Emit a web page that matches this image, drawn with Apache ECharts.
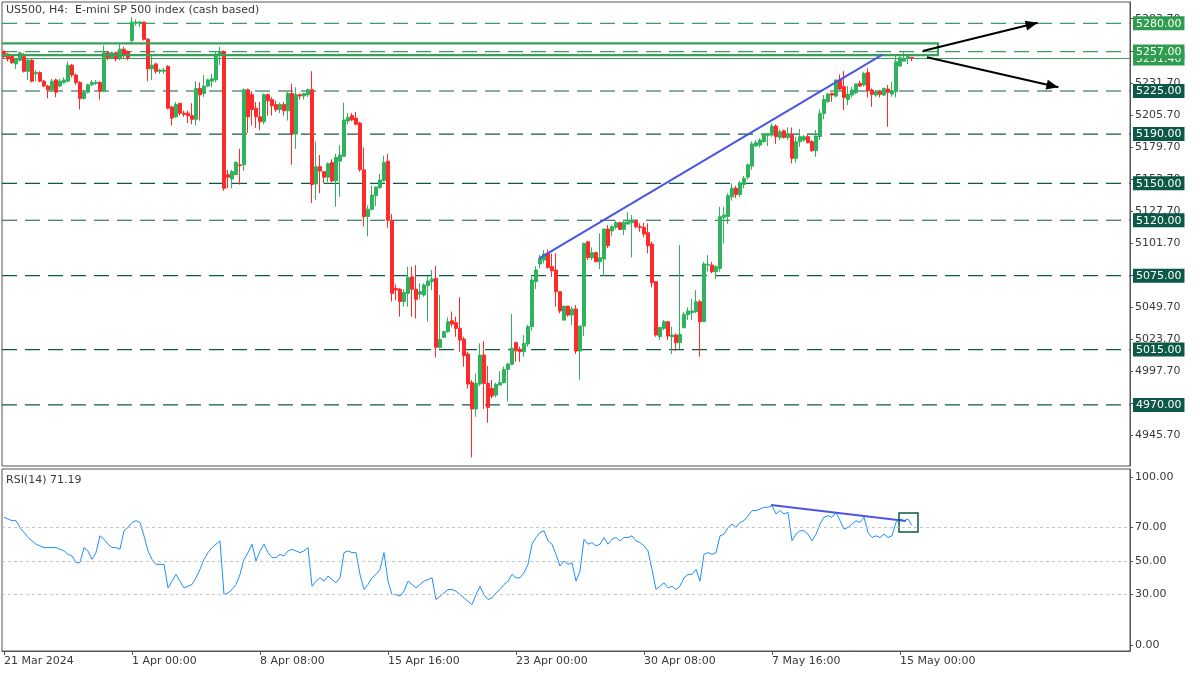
<!DOCTYPE html>
<html><head><meta charset="utf-8">
<script src="https://cdn.jsdelivr.net/npm/echarts@6/dist/echarts.min.js"></script>
<style>html,body{margin:0;padding:0;background:#fff}#c{width:1200px;height:675px}</style>
</head><body><div id="c"></div><script>
// ---------------- data ----------------
const opens = [5257,5255,5253,5247,5250,5253,5241,5250,5239,5240,
5233,5229,5226,5234,5229,5232,5233,5246,5238,5232,
5219,5224,5230,5231,5232,5225,5256,5252,5256,5252,
5259,5257,5266,5280,5280,5281,5267,5243,5247,5241,
5241,5245,5212,5204,5215,5207,5207,5205,5202,5227,
5223,5229,5233,5234,5254,5257,5157,5153.5,5157,5165,
5165,5226,5222,5211,5204,5200,5222,5218,5214,5210,
5214,5209,5223,5190,5222,5221,5222,5226,5149.5,5163.5,
5159.5,5155,5167,5152,5168,5172,5200.6,5205,5203,5199,
5161,5123,5129,5140,5146.5,5152.2,5168,5120,5064.7,5064,
5054,5060.6,5074,5064,5060,5059.3,5067,5070.1,5072.8,5016.8,
5024.9,5029.5,5038.4,5036.8,5032.2,5023.5,5011.3,4988.1,4966.7,4987,
5010.5,4987.5,4983.4,4978,4986.1,4988.1,4998.9,5003,5020.6,5015.1,
5013.2,5019.5,5033.6,5070.1,5084.5,5087.7,5093.1,5082.3,5079.6,5062,
5038.9,5050.3,5043,5047.9,5013.8,5034.1,5102.6,5089.6,5093.7,5086.3,
5088.5,5112.9,5111.3,5114.3,5118,5112.6,5116.9,5118,5119.7,5114.8,
5114.2,5109.9,5100.7,5070.1,5025.4,5032.2,5037.6,5025.4,5026.8,5020.6,
5032.7,5043.3,5044.9,5045.7,5053.8,5037.6,5083.6,5083.6,5078.2,5080.9,
5122.4,5123,5139,5146,5141,5149,5155,5164,5180.3,5181.1,
5183.8,5189,5189.2,5196.5,5187.3,5192.7,5187.3,5189.2,5170.3,5183.8,
5185.2,5187.9,5183.8,5176.5,5187.9,5206.8,5216.3,5223.1,5220.9,5233.9,
5228.5,5218.2,5221.7,5223.6,5231.2,5229.9,5240.1,5225.8,5221.7,5224.4,
5221.7,5226.6,5222.5,5224.4,5245.3,5249.3,5251.5,5252.3];
const closes = [5253,5251,5248,5251,5256,5241,5250,5233,5240,5233,
5229,5226,5233,5224,5233,5234,5246,5238,5232,5219,
5224,5230,5232,5232,5225,5256,5252,5256,5251,5259,
5254,5252,5281,5281,5281,5267,5243,5246,5241,5242,
5242,5211,5203,5214,5207,5206,5205,5202,5227,5222,
5229,5234,5235,5255,5257,5146,5155,5159.5,5167,5164.5,
5226,5204,5210,5204,5200,5222,5217,5213,5210,5214,
5209,5223,5190,5222,5221,5223,5226,5149,5163.5,5160,
5155,5166,5152,5171,5173,5201.5,5203.6,5201.5,5198,5161,
5123,5129,5140.5,5147,5152.7,5167,5120,5060.6,5063.3,5054,
5061.4,5073.6,5064,5055.8,5062,5067.4,5070.7,5072.3,5016.8,5023.3,
5029.5,5037.6,5035.7,5032.2,5022.7,5010,4987,4966.7,4987.5,5010.5,
4987.5,4968,4977.2,4986.7,4988.3,4998.9,5003.2,5016,5014,5013.2,
5020,5033.6,5071.5,5079.6,5089,5092.6,5081.5,5079,5062,5046.3,
5050.3,5043,5047.9,5013.8,5034.1,5101.2,5089.6,5093.7,5086.3,5089.6,
5112.9,5099.4,5114.8,5118,5112.6,5118.3,5118.8,5120.2,5114.8,5114,
5108.8,5099.4,5069.3,5026.8,5033,5037.6,5026,5026.8,5020.6,5027.3,
5043.6,5046.3,5046.3,5053.8,5037.6,5084.5,5084.3,5078.2,5082.3,5122.9,
5124.3,5140,5146,5141,5150,5154,5165,5182,5183,5185.2,
5190,5190,5196.5,5187.9,5191.9,5187.3,5190,5170.3,5183.8,5187.9,
5187.9,5183,5176.5,5188.4,5206.8,5218.2,5222.5,5221.7,5233.9,5226.6,
5219.8,5222.3,5225.8,5230.7,5229,5239.3,5225.2,5222.3,5224.4,5222.3,
5227.1,5223.9,5225.2,5248.8,5252,5251.5,5252.9,5251.4];
const lows = [5251,5249,5247,5243,5249,5240,5234,5232,5233,5232,
5228,5219,5225,5220,5228,5231,5232,5236,5230,5210,
5218,5223,5229,5230,5218,5224,5250,5251,5249,5250,
5252,5250,5264,5278,5277,5266,5233,5234,5239,5239,
5239,5210,5197,5203,5205,5204,5199,5198,5197,5201,
5220,5228,5228,5232,5246,5144,5146,5146,5157,5149,
5160,5191,5197,5195,5193,5198,5205,5205,5208,5207,
5205,5201,5165,5178,5218,5218,5220,5134,5136.5,5142,
5150,5151,5151,5131,5139,5171.5,5198,5200.5,5197,5159.5,
5115,5107,5128,5131.5,5145.4,5151.4,5114,5054,5055,5041.7,
5049.8,5049.8,5041.7,5040.3,5055.8,5057.9,5037.6,5063.3,5008.6,5016,
5024.6,5028.7,5033,5025.4,5013.2,5001.1,4983.4,4927.4,4960.4,4985.3,
4966.7,4955.6,4975.3,4976.1,4986.1,4987.5,4972.6,5002.4,5005.1,5005.1,
5009.2,5017.3,5030.3,5064.1,5081,5085,5081,5074,5049.8,5044.4,
5038.9,5041.7,5034.9,5011.4,4990.2,5026,5087.7,5087.7,5086.3,5080.4,
5074.7,5097.2,5107.2,5112.6,5112,5108,5116.9,5089.9,5113.4,5110.7,
5106.1,5093.1,5065.5,5025.4,5022.7,5030.8,5022.7,5011.4,5014.1,5015.4,
5032.7,5039,5039,5044.4,5009.2,5037.6,5078.2,5076.9,5072.3,5078.2,
5101.2,5117,5136,5138,5139,5146,5153,5161,5179.7,5179.2,
5183,5180.3,5187.9,5181.9,5185.2,5186.5,5185.2,5166.2,5166.8,5179.7,
5183.8,5182.4,5175.7,5171.6,5185.2,5202,5215.5,5216.3,5219.8,5225.8,
5209.5,5213.6,5219.8,5222.5,5228.5,5228.5,5219.8,5212.2,5220.4,5219.8,
5220.9,5196,5220.4,5219.8,5244.8,5248.8,5246.9,5249.3];
const highs = [5258,5256,5254,5252,5257,5256,5251,5251,5242,5241,
5234,5230,5235,5235,5235,5236,5249,5247,5239,5233,
5226,5231,5234,5234,5233,5262,5257,5257,5257,5264,
5261,5258,5285,5283,5282,5281,5268,5254,5248,5243,
5244,5246,5213,5216,5215,5209,5209,5215,5233,5232,
5238,5235,5239,5257,5261,5258,5161,5161,5168,5178,
5227,5227,5225,5216,5216,5223,5223,5220,5217,5215.5,
5216,5224.5,5231,5228,5223,5223.5,5227,5241,5184,5173,
5159.5,5167,5169.5,5174,5181,5215.5,5207,5207,5208,5200,
5179,5132,5148,5147.5,5157.6,5172.5,5174,5125,5068,5065,
5064,5082.3,5082.3,5083.6,5068.8,5068.8,5074.7,5079.6,5082.8,5059.3,
5030.3,5041.1,5045.8,5041.7,5057.4,5025.4,5013.2,4990.2,4995.6,5020,
5021.9,5001.6,4990.2,4988.1,4997.5,5001.1,5004.3,5043.8,5021.4,5017.3,
5026.8,5034.9,5075.5,5082.8,5091.8,5095.8,5096.4,5093.1,5093.1,5062,
5050.3,5050.3,5049.8,5051.1,5034.1,5101.8,5102.6,5098,5094.5,5109.4,
5112.9,5116.1,5116.1,5119.7,5118.8,5119.7,5126.4,5124.3,5120.7,5117.5,
5118,5117.5,5102.6,5070.1,5033.5,5039,5037.6,5033.5,5028.1,5099.9,
5045.7,5049.2,5056,5063.3,5055.2,5086.3,5091.8,5086.3,5083.6,5131,
5131,5142,5150,5148,5152,5156,5166,5184,5185.2,5186.5,
5190.6,5190.6,5198.7,5197.9,5193.8,5193.8,5195.4,5195.4,5187.9,5194.1,
5189.2,5190,5185.2,5193.3,5210.1,5221.7,5223.6,5223.6,5234.4,5238.5,
5241.2,5229,5228.5,5231.2,5233.4,5240.7,5243.4,5227.1,5225.8,5225.8,
5227.7,5229.9,5232.6,5253.4,5253.4,5256.9,5254.2,5252.3];
const rsiValues = [76,75,74,74,70,67,64,62,60,59,
58,58,58,58,57,56,54,53,49,49,
58,56,51,55,65,63,60,58,58,57,
68,70,73,74,73,65,56,51,48,48,
48,34,38,42,38,34,35,36,40,45,
51,55,58,60,62,30,31,33,36,42,
51,55,60,50,56,60,55,52,52,54,
53,56,57,56,55,56,58,35,38,40,
38,41,39,37,40,55,56,55,55,42,
33,36,40,42,45,55,38,30,30,29,
32,38,36,34,36,38,39,40,27,29,
31,33,33,32,30,28,26,24,30,35,
30,27,28,31,33,36,38,42,40,40,
43,48,60,64,67,68,62,60,54,47,
50,48,49,38,44,63,60,61,59,60,
64,60,63,64,62,64,64,65,62,61,
59,56,45,33,35,37,34,35,33,35,
40,42,42,45,38,54,55,54,55,65,
66,70,72,70,73,74,77,80,80,81,
82,82,83,78,80,78,79,62,66,68,
68,66,62,66,72,76,77,76,79,74,
69,70,72,74,73,76,67,64,65,64,
66,64,65,73,75,74,75,71.19];
const rsiLast = 71.19;
const lastPrice = 5251.4;
const priceTicks = [4945.7,4971.7,4997.7,5023.7,5049.7,5075.7,5101.7,5127.7,5153.7,5179.7,5205.7,5231.7,5257.7,5283.7];
const rsiTicks = [0,30,50,70,100];
const levelsLight = [5280,5257];
const levelsDark = [5225,5190,5150,5120,5075,5015,4970];
const zoneBox = [[-6,5263.7,233.5,5254.2]];            // [x1,top,x2,bottom] in bar units
const priceTrend = [[133.8,5089,219.7,5254.8]];
const arrowSegs = [[229.7,5257.5,258.4,5280.5],[230.75,5252.4,263.6,5228]];
const rsiTrend = [[191.75,83.3,225.5,73.8]];
const rsiBox = [[223.75,78.6,228.5,67.3]];
const titleText = 'US500, H4:  E-mini SP 500 index (cash based)';
const totalSlots = 282;
const firstBarUTC = Date.UTC(2024,2,21,16);
const holidays = ['2024-03-29'];
const monthNames = ['Jan','Feb','Mar','Apr','May','Jun','Jul','Aug','Sep','Oct','Nov','Dec'];

// ---------------- categories (bar times) ----------------
function buildTimes(n){
  const out=[]; let t=firstBarUTC;
  while(out.length<n){
    const d=new Date(t); const wd=d.getUTCDay(); const ds=d.toISOString().slice(0,10);
    if(wd!==0 && wd!==6 && !holidays.includes(ds)) out.push(t);
    t+=4*3600e3;
  }
  return out;
}
const times = buildTimes(totalSlots);
const pad = n => (n<10?'0':'')+n;
const categories = times.map((t,i)=>{
  const d=new Date(t);
  if(i===0) return d.getUTCDate()+' '+monthNames[d.getUTCMonth()]+' '+d.getUTCFullYear();
  return d.getUTCDate()+' '+monthNames[d.getUTCMonth()]+' '+pad(d.getUTCHours())+':'+pad(d.getUTCMinutes());
});
const nBars = closes.length;
const candles = closes.map((c,i)=>[opens[i],c,lows[i],highs[i]]);

// ---------------- styles ----------------
const FONT='DejaVu Sans';
const TXT='#3a3a3a';
const AX='#555555';
const UP='#2fb35c', DOWN='#ff2a2a';
const LIGHT='#3aa05c', LIGHTBG='#2f9d50', DARK='#0e5b48', DARKBG='#0b5946';

function levelRender(color, dash, width){
  return function(params, api){
    const y = api.coord([0, api.value(1)])[1];
    const cs = params.coordSys;
    return {type:'line', shape:{x1:cs.x, y1:y, x2:cs.x+cs.width, y2:y},
      style:{stroke:color, lineWidth:width, lineDash:dash}};
  };
}
function segRender(color, width, head){
  return function(params, api){
    const p1 = api.coord([api.value(0), api.value(1)]);
    const p2 = api.coord([api.value(2), api.value(3)]);
    const children=[{type:'line', shape:{x1:p1[0],y1:p1[1],x2:p2[0],y2:p2[1]}, style:{stroke:color,lineWidth:width}}];
    if(head){
      const a=Math.atan2(p2[1]-p1[1],p2[0]-p1[0]); const L=12, W=5;
      const bx=p2[0]-L*Math.cos(a), by=p2[1]-L*Math.sin(a);
      children.push({type:'polygon', shape:{points:[[p2[0],p2[1]],[bx+W*Math.sin(a),by-W*Math.cos(a)],[bx-W*Math.sin(a),by+W*Math.cos(a)]]}, style:{fill:color}});
    }
    return {type:'group', children};
  };
}
function rectRender(color, width){
  return function(params, api){
    const p1 = api.coord([api.value(0), api.value(1)]);
    const p2 = api.coord([api.value(2), api.value(3)]);
    return {type:'rect', shape:{x:p1[0], y:p1[1], width:p2[0]-p1[0], height:p2[1]-p1[1]},
      style:{stroke:color, lineWidth:width, fill:null}};
  };
}
const hiddenAxisParts = {axisLine:{show:false, onZero:false}, axisTick:{show:false}, axisLabel:{show:false}, splitLine:{show:false}, splitArea:{show:false}, minorTick:{show:false}, minorSplitLine:{show:false}};

const chart = echarts.init(document.getElementById('c'), null, {renderer:'canvas'});
const baseLabel = {fontFamily:FONT, fontSize:11, color:TXT};
chart.setOption({
  animation:false,
  backgroundColor:'#ffffff',
  title:[
    {text:titleText, left:6, top:5, padding:0, textStyle:{fontFamily:FONT, fontSize:11, fontWeight:'normal', color:TXT}},
    {text:'RSI(14) '+rsiLast.toFixed(2), left:6, top:475, padding:0, textStyle:{fontFamily:FONT, fontSize:11, fontWeight:'normal', color:TXT}}
  ],
  grid:[
    {left:2, top:2, width:1128, height:464, show:true, borderColor:AX, borderWidth:1, outerBoundsMode:'none', containLabel:false},
    {left:2, top:469, width:1128, height:182, show:true, borderColor:AX, borderWidth:1, outerBoundsMode:'none', containLabel:false}
  ],
  xAxis:[
    Object.assign({type:'category', gridIndex:0, data:categories, boundaryGap:true, show:false}, hiddenAxisParts),
    Object.assign({type:'value', gridIndex:0, min:-0.5, max:totalSlots-0.5, show:false}, hiddenAxisParts),
    {type:'category', gridIndex:1, data:categories, boundaryGap:true, position:'bottom',
      axisLine:{show:true, onZero:false, lineStyle:{color:AX}},
      axisTick:{show:true, length:4, alignWithLabel:true, interval:(i)=> i<nBars && i%32===0, lineStyle:{color:AX}},
      axisLabel:Object.assign({}, baseLabel, {interval:(i)=> i<nBars && i%32===0, align:'left', margin:5, hideOverlap:false, showMinLabel:true}),
      splitLine:{show:false}},
    Object.assign({type:'value', gridIndex:1, min:-0.5, max:totalSlots-0.5, show:false}, hiddenAxisParts)
  ],
  yAxis:[
    {type:'value', gridIndex:0, position:'right', min:4920.4, max:5297.3,
      axisLine:{show:true, onZero:false, lineStyle:{color:AX}},
      axisTick:{show:true, length:3, customValues:priceTicks, lineStyle:{color:AX}},
      axisLabel:Object.assign({}, baseLabel, {customValues:priceTicks, formatter:v=>Number(v).toFixed(2), margin:5, hideOverlap:false, showMinLabel:true, showMaxLabel:true}),
      splitLine:{show:false}, minorTick:{show:false}},
    {type:'value', gridIndex:0, position:'right', min:4920.4, max:5297.3,
      axisLine:{show:false, onZero:false}, axisTick:{show:false}, splitLine:{show:false}, minorTick:{show:false},
      axisLabel:Object.assign({}, baseLabel, {customValues:[lastPrice], formatter:v=>'{l|'+Number(v).toFixed(2)+'}', margin:3, hideOverlap:false,
        rich:{l:{backgroundColor:LIGHTBG, color:'#fff', fontFamily:FONT, fontSize:11, padding:[2,3,1,3]}}})},
    {type:'value', gridIndex:0, position:'right', min:4920.4, max:5297.3,
      axisLine:{show:false, onZero:false}, axisTick:{show:false}, splitLine:{show:false}, minorTick:{show:false},
      axisLabel:Object.assign({}, baseLabel, {customValues:levelsDark.concat(levelsLight), hideOverlap:false, margin:3,
        formatter:v=> (levelsLight.indexOf(v)>=0?'{l|':'{d|')+Number(v).toFixed(2)+'}',
        rich:{l:{backgroundColor:LIGHTBG, color:'#fff', fontFamily:FONT, fontSize:11, padding:[2,3,1,3]},
              d:{backgroundColor:DARKBG, color:'#fff', fontFamily:FONT, fontSize:11, padding:[2,3,1,3]}}})},
    {type:'value', gridIndex:1, position:'right', min:-3.6, max:104.8,
      axisLine:{show:true, onZero:false, lineStyle:{color:AX}},
      axisTick:{show:true, length:3, customValues:rsiTicks, lineStyle:{color:AX}},
      axisLabel:Object.assign({}, baseLabel, {customValues:rsiTicks, formatter:v=>Number(v).toFixed(2), margin:5, hideOverlap:false, showMinLabel:true, showMaxLabel:true}),
      splitLine:{show:false}, minorTick:{show:false}}
  ],
  series:[
    {type:'custom', name:'levelsDark', xAxisIndex:1, yAxisIndex:0, z:1, silent:true,
      data:levelsDark.map(p=>[0,p]), renderItem:levelRender(DARK,[15,8],1.2)},
    {type:'custom', name:'levelsLight', xAxisIndex:1, yAxisIndex:0, z:1, silent:true,
      data:levelsLight.map(p=>[0,p]), renderItem:levelRender(LIGHT,[15,8],1.2)},
    {type:'custom', name:'bid', xAxisIndex:1, yAxisIndex:0, z:1, silent:true,
      data:[[0,lastPrice]], renderItem:levelRender(LIGHT,null,1)},
    {type:'custom', name:'zone', xAxisIndex:1, yAxisIndex:0, z:3, silent:true, clip:true,
      data:zoneBox, renderItem:rectRender(LIGHT,2.2)},
    {type:'candlestick', name:'US500', xAxisIndex:0, yAxisIndex:0, z:2, barWidth:3,
      data:candles,
      itemStyle:{color:UP, color0:DOWN, borderColor:UP, borderColor0:DOWN, borderWidth:1}},
    {type:'custom', name:'trend', xAxisIndex:1, yAxisIndex:0, z:4, silent:true,
      data:priceTrend, renderItem:segRender('#4a55e6',2,false)},
    {type:'custom', name:'arrows', xAxisIndex:1, yAxisIndex:0, z:4, silent:true,
      data:arrowSegs, renderItem:segRender('#000000',2,true)},
    {type:'line', name:'RSI', xAxisIndex:2, yAxisIndex:3, data:rsiValues, symbol:'none', showSymbol:false, z:3,
      lineStyle:{color:'#1e90ff', width:1}, itemStyle:{color:'#1e90ff'},
      markLine:{silent:true, symbol:['none','none'], label:{show:false}, animation:false,
        lineStyle:{color:'#c4c4c4', type:[3,3], width:1},
        data:[{yAxis:30},{yAxis:50},{yAxis:70}]}},
    {type:'custom', name:'rsiTrend', xAxisIndex:3, yAxisIndex:3, z:4, silent:true,
      data:rsiTrend, renderItem:segRender('#4a55e6',2,false)},
    {type:'custom', name:'rsiBox', xAxisIndex:3, yAxisIndex:3, z:4, silent:true,
      data:rsiBox, renderItem:rectRender(DARK,1.5)}
  ]
});
</script></body></html>
